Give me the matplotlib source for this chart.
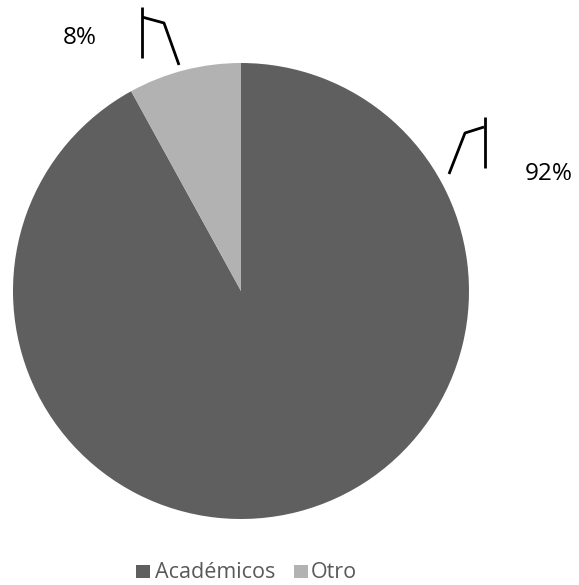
import matplotlib
matplotlib.use('Agg')
import matplotlib.pyplot as plt
from matplotlib.patches import Rectangle

# datos
categorias = ["Académicos", "Otro"]
porcentajes = [92, 8]
colores = ["#5f5f5f", "#b2b2b2"]

W, H = 579, 585
fig = plt.figure(figsize=(W / 100, H / 100), dpi=100)
ax = fig.add_axes([0, 0, 1, 1])
ax.set_xlim(0, W)
ax.set_ylim(0, H)
ax.set_aspect("equal")
ax.axis("off")

ax.pie(porcentajes, colors=colores, startangle=90, counterclock=False,
       center=(241, 294), radius=228, wedgeprops=dict(linewidth=0))
ax.set_xlim(0, W)
ax.set_ylim(0, H)

fuente = "Open Sans"

# etiquetas con lineas guia (posiciones en pixeles, y desde arriba)
def guia(puntos):
    xs = [p[0] for p in puntos]
    ys = [H - p[1] for p in puntos]
    ax.plot(xs, ys, color="black", lw=2, solid_capstyle="butt")

guia([(142, 7), (142, 58)])
guia([(142, 17), (164, 23), (179, 65)])
ax.text(80, H - 38, f"{porcentajes[1]}%", fontsize=17.5, family=fuente,
        ha="center", va="center", color="black")

guia([(485, 117), (485, 168)])
guia([(484, 127), (465, 133), (449, 174)])
ax.text(549, H - 174, f"{porcentajes[0]}%", fontsize=17.5, family=fuente,
        ha="center", va="center", color="black")

# leyenda
ley = [(136, 155, categorias[0], colores[0]), (294, 311, categorias[1], colores[1])]
for x0, xt, nombre, c in ley:
    ax.add_patch(Rectangle((x0, H - 578), 14, 13, color=c, lw=0))
    ax.text(xt, H - 578, nombre, fontsize=15.5, family=fuente,
            ha="left", va="baseline", color="#595959")

fig.savefig("out.png", dpi=100)
